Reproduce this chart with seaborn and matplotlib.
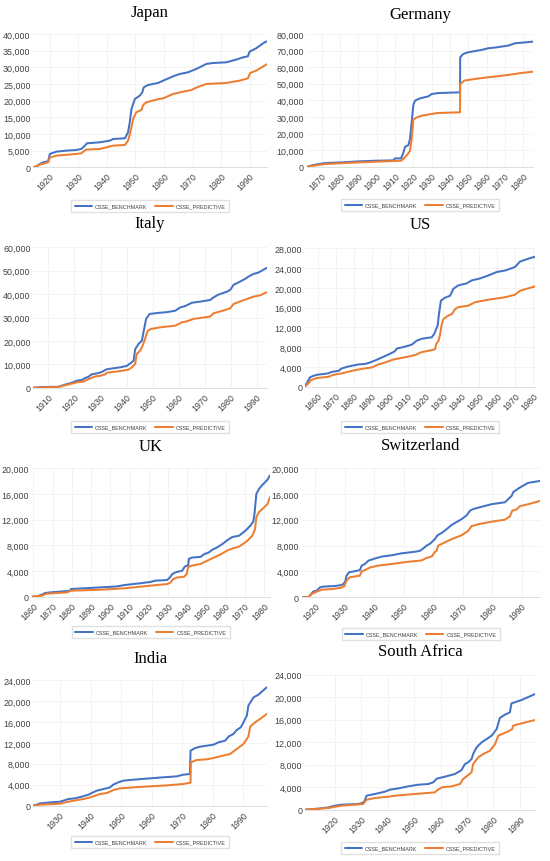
import matplotlib
matplotlib.use("Agg")
import matplotlib.pyplot as plt
import seaborn as sns
import pandas as pd
from matplotlib.ticker import FuncFormatter, FixedLocator

# ---------------- data ----------------
SERIES = ["CSSE_BENCHMARK", "CSSE_PREDICTIVE"]
COLORS = ["#4472C4", "#ED7D31"]

COUNTRIES = ["Japan", "Germany", "Italy", "US", "UK", "Switzerland", "India", "South Africa"]

JAPAN_B_YEARS = [1914.2, 1915.3, 1916.5, 1917.7, 1919.4, 1920.0, 1922.3, 1925.8, 1929.3, 1931.0, 1932.3, 1933.0,
                 1937.5, 1941.0, 1942.2, 1946.3, 1947.4, 1948.0, 1948.6, 1949.8, 1951.5, 1952.4, 1952.9, 1954.4,
                 1957.9, 1959.7, 1963.2, 1965.5, 1968.4, 1971.3, 1974.8, 1977.2, 1981.8, 1985.3, 1987.7, 1989.4,
                 1990.0, 1992.3, 1994.7, 1996.0]
JAPAN_B_VALS = [0, 200, 1000, 1500, 1800, 4000, 4700, 5000, 5200, 5500, 6500, 7200,
                7500, 8000, 8500, 8700, 10500, 13500, 17500, 20500, 21500, 22500, 24000, 24700,
                25300, 26000, 27300, 28000, 28500, 29500, 31000, 31300, 31500, 32300, 33000, 33300,
                34700, 35700, 37200, 37800]
JAPAN_P_YEARS = [1914.2, 1916.5, 1919.4, 1920.0, 1922.3, 1929.3, 1931.0, 1932.6, 1937.5, 1942.2, 1946.3, 1947.4,
                 1948.2, 1949.2, 1950.3, 1952.1, 1952.7, 1953.8, 1957.3, 1959.7, 1963.2, 1966.7, 1969.6, 1971.3,
                 1974.8, 1981.8, 1986.5, 1989.4, 1990.2, 1992.3, 1996.0]
JAPAN_P_VALS = [0, 800, 1500, 2900, 3500, 4000, 4200, 5300, 5500, 6500, 6700, 8000,
                10500, 14500, 16500, 17200, 18700, 19500, 20300, 20700, 22000, 22700, 23200, 23900,
                25000, 25300, 26000, 26700, 28300, 29000, 30900]

GERMANY_B_YEARS = [1861.8, 1866.4, 1871.8, 1880.9, 1890.0, 1899.0, 1909.0, 1910.0, 1913.3, 1914.5, 1915.5, 1917.3,
                   1918.2, 1919.1, 1920.0, 1920.9, 1923.6, 1928.2, 1930.0, 1933.6, 1944.5, 1945.5, 1945.6, 1947.3,
                   1950.0, 1957.3, 1960.9, 1964.5, 1971.8, 1975.5, 1985.5]
GERMANY_B_VALS = [0, 1200, 2200, 2600, 3200, 3600, 3800, 5000, 5000, 8200, 12000, 13000,
                  16700, 26700, 37200, 39800, 41200, 42400, 43800, 44400, 44800, 44800, 66000, 68000,
                  69000, 70400, 71400, 71800, 73000, 74400, 75400]
GERMANY_P_YEARS = [1861.8, 1871.8, 1890.0, 1913.3, 1914.5, 1917.0, 1918.2, 1919.1, 1920.0, 1921.8, 1924.5, 1930.0,
                   1933.6, 1945.5, 1945.6, 1947.8, 1953.6, 1960.9, 1971.8, 1979.1, 1985.5]
GERMANY_P_VALS = [0, 1600, 2600, 3600, 4600, 7600, 9600, 16700, 28300, 29700, 30700, 31800,
                  32400, 32800, 49800, 51900, 52900, 53900, 55300, 56500, 57300]

ITALY_B_YEARS = [1904.2, 1908.1, 1913.8, 1915.1, 1916.4, 1919.0, 1920.9, 1922.8, 1924.1, 1925.4, 1926.6, 1928.6,
                 1930.5, 1932.2, 1933.7, 1937.5, 1940.1, 1941.4, 1942.7, 1943.3, 1944.6, 1945.9, 1946.5, 1947.5,
                 1948.8, 1951.6, 1955.5, 1958.7, 1960.6, 1962.5, 1965.1, 1968.3, 1972.1, 1973.4, 1975.3, 1978.5,
                 1979.8, 1981.1, 1983.0, 1985.5, 1986.8, 1988.7, 1990.6, 1991.9, 1993.8]
ITALY_B_VALS = [0, 300, 400, 850, 1300, 2100, 3000, 3300, 4100, 4700, 5700, 6100,
                6700, 7800, 8100, 8700, 9300, 10400, 11500, 16500, 18700, 20100, 23700, 29400,
                31500, 31900, 32300, 32900, 34300, 34900, 36300, 36800, 37500, 38600, 39800, 41000,
                41800, 44000, 45000, 46500, 47500, 48600, 49200, 50000, 51200]
ITALY_P_YEARS = [1904.2, 1913.8, 1916.4, 1920.9, 1923.5, 1925.4, 1928.0, 1929.9, 1931.8, 1932.4, 1937.5, 1940.7,
                 1942.0, 1943.3, 1943.9, 1945.2, 1946.2, 1947.1, 1948.0, 1949.3, 1952.9, 1958.7, 1961.2, 1963.2,
                 1965.7, 1972.1, 1973.4, 1976.0, 1979.8, 1981.1, 1983.7, 1986.2, 1988.7, 1991.3, 1993.8]
ITALY_P_VALS = [0, 300, 1000, 2300, 2600, 3700, 4800, 5100, 5700, 6400, 7100, 7700,
                8700, 10100, 14400, 15800, 18000, 20800, 24100, 25100, 25800, 26500, 27900, 28400,
                29400, 30400, 31800, 32600, 33900, 35800, 36900, 37900, 38900, 39500, 40800]

US_B_YEARS = [1852.9, 1854.2, 1855.7, 1857.6, 1859.4, 1865.9, 1867.8, 1871.5, 1873.4, 1877.1, 1882.6, 1886.3,
              1889.1, 1891.9, 1895.6, 1899.3, 1902.1, 1903.0, 1904.0, 1908.6, 1912.3, 1915.1, 1917.9, 1923.5,
              1924.9, 1926.8, 1927.5, 1928.6, 1930.9, 1933.7, 1935.5, 1938.3, 1942.9, 1945.7, 1950.4, 1955.0,
              1959.6, 1964.3, 1969.8, 1972.6, 1977.3, 1981.0]
US_B_VALS = [0, 900, 1900, 2200, 2400, 2700, 3000, 3200, 3700, 4100, 4500, 4600,
             4900, 5300, 5900, 6500, 7000, 7200, 7700, 8100, 8500, 9300, 9700, 10000,
             10700, 12400, 14700, 17400, 18000, 18400, 19800, 20500, 20900, 21500, 21900, 22500,
             23200, 23500, 24200, 25300, 25900, 26300]
US_P_YEARS = [1852.9, 1854.4, 1856.3, 1859.4, 1865.9, 1868.7, 1873.4, 1878.9, 1884.5, 1890.1, 1893.8, 1897.5,
              1902.1, 1910.5, 1914.2, 1917.9, 1923.5, 1925.4, 1925.9, 1927.3, 1928.2, 1929.1, 1930.0, 1932.8,
              1934.7, 1936.5, 1938.3, 1943.9, 1947.6, 1955.0, 1964.3, 1969.8, 1972.6, 1976.3, 1981.0]
US_P_VALS = [0, 540, 1350, 1750, 2000, 2400, 2700, 3200, 3600, 3900, 4500, 4900,
             5500, 6100, 6400, 7000, 7400, 7600, 8600, 9300, 10700, 12700, 13700, 14400,
             14700, 15700, 16100, 16400, 17100, 17600, 18100, 18600, 19400, 19800, 20300]

UK_B_YEARS = [1859.1, 1861.7, 1864.3, 1866.1, 1868.7, 1877.4, 1879.1, 1879.5, 1886.1, 1894.8, 1903.5, 1907.0,
              1915.7, 1920.9, 1923.5, 1929.6, 1931.0, 1932.2, 1933.9, 1937.4, 1938.8, 1940.5, 1940.9, 1942.6,
              1947.0, 1948.7, 1951.3, 1953.0, 1955.7, 1958.3, 1960.9, 1963.5, 1967.0, 1970.4, 1973.0, 1974.4,
              1975.1, 1976.0, 1977.4, 1979.1, 1981.7, 1983.1]
UK_B_VALS = [0, 50, 300, 570, 670, 880, 930, 1200, 1300, 1450, 1600, 1800,
             2100, 2300, 2500, 2600, 3000, 3500, 3800, 4050, 4700, 4900, 5900, 6100,
             6200, 6600, 6900, 7300, 7700, 8200, 8800, 9300, 9500, 10300, 11100, 11700,
             13100, 16000, 16800, 17400, 18200, 18900]
UK_P_YEARS = [1859.1, 1864.3, 1866.9, 1877.4, 1879.5, 1894.8, 1907.0, 1915.7, 1923.5, 1929.6, 1931.3, 1932.7,
              1934.8, 1938.3, 1939.7, 1940.5, 1941.7, 1947.0, 1950.4, 1953.9, 1957.4, 1960.9, 1963.5, 1967.0,
              1971.3, 1973.9, 1975.3, 1976.0, 1977.4, 1980.0, 1981.7, 1983.1]
UK_P_VALS = [0, 150, 470, 670, 930, 1090, 1300, 1560, 1800, 1970, 2200, 2750,
             3000, 3100, 3500, 4600, 4800, 5100, 5600, 6100, 6600, 7200, 7500, 7800,
             8700, 9500, 10500, 12400, 13200, 13900, 14400, 15500]

SWISS_B_YEARS = [1915.5, 1917.7, 1918.3, 1919.4, 1920.6, 1921.7, 1922.8, 1926.8, 1929.0, 1929.6, 1930.2, 1930.7,
                 1931.5, 1933.0, 1935.2, 1935.8, 1936.9, 1938.1, 1940.3, 1942.6, 1946.0, 1949.3, 1953.9, 1955.6,
                 1956.7, 1957.8, 1959.0, 1960.6, 1961.5, 1962.9, 1964.6, 1966.3, 1969.7, 1971.4, 1972.5, 1973.6,
                 1976.4, 1979.8, 1984.3, 1985.5, 1986.6, 1987.2, 1988.8, 1990.0, 1992.2, 1996.2]
SWISS_B_VALS = [0, 0, 260, 880, 1030, 1550, 1650, 1750, 1900, 2060, 2400, 3350,
                3860, 4000, 4200, 4900, 5150, 5670, 6000, 6300, 6500, 6800, 7050, 7200,
                7570, 8000, 8300, 9000, 9600, 9950, 10550, 11200, 12100, 12700, 13400, 13650,
                14000, 14400, 14700, 15200, 15700, 16300, 16800, 17150, 17700, 18000]
SWISS_P_YEARS = [1915.5, 1917.7, 1918.8, 1920.6, 1922.3, 1926.2, 1929.0, 1929.9, 1930.7, 1931.8, 1935.2, 1935.8,
                 1936.9, 1938.6, 1941.4, 1946.0, 1951.6, 1956.1, 1957.8, 1959.5, 1960.6, 1961.2, 1961.7, 1964.0,
                 1966.3, 1969.7, 1971.9, 1973.0, 1975.3, 1979.8, 1984.3, 1986.0, 1986.8, 1988.3, 1989.4, 1992.2,
                 1996.2]
SWISS_P_VALS = [0, 0, 500, 880, 1180, 1290, 1500, 1700, 2600, 3100, 3350, 4000,
                4200, 4600, 4900, 5150, 5500, 5700, 6100, 6300, 7000, 7200, 8000, 8500,
                9000, 9600, 10300, 11000, 11300, 11700, 12000, 12500, 13400, 13600, 14100, 14400,
                14900]

INDIA_B_YEARS = [1921.3, 1922.4, 1923.5, 1925.6, 1930.0, 1931.1, 1932.7, 1934.9, 1937.1, 1939.3, 1940.4, 1942.0,
                 1944.2, 1946.4, 1947.4, 1949.1, 1950.7, 1954.0, 1959.4, 1964.9, 1968.2, 1970.3, 1972.5, 1972.7,
                 1974.2, 1975.8, 1980.2, 1981.8, 1984.0, 1985.1, 1986.7, 1987.8, 1989.1, 1990.0, 1991.1, 1991.6,
                 1993.3, 1994.9, 1997.6]
INDIA_B_VALS = [0, 190, 450, 570, 760, 950, 1270, 1400, 1720, 2100, 2420, 2860,
                3180, 3500, 4010, 4460, 4770, 4970, 5220, 5470, 5600, 5920, 6050, 10500,
                11000, 11270, 11650, 12100, 12410, 13180, 13690, 14450, 14960, 15900, 17190, 19100,
                20690, 21200, 22600]
INDIA_P_YEARS = [1921.3, 1923.5, 1930.0, 1932.2, 1934.4, 1937.7, 1939.9, 1941.5, 1943.1, 1945.3, 1947.5, 1949.6,
                 1954.0, 1964.9, 1970.3, 1972.7, 1972.8, 1974.7, 1977.9, 1980.2, 1982.3, 1985.6, 1987.8, 1990.0,
                 1991.6, 1992.2, 1993.8, 1995.4, 1997.6]
INDIA_P_VALS = [0, 190, 380, 700, 950, 1270, 1590, 1910, 2230, 2420, 2990, 3310,
                3500, 3880, 4140, 4390, 8280, 8720, 8850, 9100, 9420, 9870, 10820, 11780,
                13180, 15090, 15920, 16550, 17500]

SA_B_YEARS = [1908.7, 1913.7, 1917.5, 1920.0, 1922.5, 1928.8, 1930.7, 1931.3, 1932.0, 1935.1, 1938.9, 1940.8,
              1944.0, 1947.7, 1951.5, 1955.3, 1957.2, 1958.5, 1961.6, 1965.4, 1967.9, 1969.2, 1970.4, 1971.7,
              1972.3, 1973.6, 1975.5, 1977.4, 1979.3, 1981.2, 1982.4, 1984.3, 1986.2, 1986.8, 1990.6, 1995.7]
SA_B_VALS = [0, 180, 410, 710, 890, 1010, 1240, 1600, 2490, 2790, 3200, 3560,
             3790, 4150, 4440, 4560, 4860, 5510, 5870, 6340, 7050, 8120, 8420, 9010,
             9900, 11080, 11970, 12560, 13160, 14340, 16300, 16890, 17300, 18900, 19500, 20560]
SA_P_YEARS = [1908.7, 1917.5, 1922.5, 1930.7, 1932.0, 1935.1, 1940.2, 1942.7, 1950.2, 1957.8, 1958.5, 1960.4,
              1964.2, 1967.3, 1968.5, 1970.4, 1971.7, 1972.3, 1974.2, 1976.1, 1978.7, 1980.6, 1981.8, 1985.6,
              1987.1, 1987.4, 1990.6, 1995.7]
SA_P_VALS = [0, 300, 710, 1010, 1780, 2070, 2310, 2490, 2790, 3080, 3380, 3970,
             4150, 4560, 5450, 6160, 6640, 8120, 9300, 9900, 10490, 11670, 13160, 13930,
             14340, 14930, 15350, 15940]

JAPAN_XTICKS = [1920, 1930, 1940, 1950, 1960, 1970, 1980, 1990]
GERMANY_XTICKS = [1870, 1880, 1890, 1900, 1910, 1920, 1930, 1940, 1950, 1960, 1970, 1980]
ITALY_XTICKS = [1910, 1920, 1930, 1940, 1950, 1960, 1970, 1980, 1990]
US_XTICKS = [1860, 1870, 1880, 1890, 1900, 1910, 1920, 1930, 1940, 1950, 1960, 1970, 1980]
UK_XTICKS = [1860, 1870, 1880, 1890, 1900, 1910, 1920, 1930, 1940, 1950, 1960, 1970, 1980]
SWISS_XTICKS = [1920, 1930, 1940, 1950, 1960, 1970, 1980, 1990]
INDIA_XTICKS = [1930, 1940, 1950, 1960, 1970, 1980, 1990]
SA_XTICKS = [1920, 1930, 1940, 1950, 1960, 1970, 1980, 1990]

JAPAN_YTICKS = [0, 5000, 10000, 15000, 20000, 25000, 30000, 35000, 40000]
GERMANY_YTICKS = [0, 10000, 20000, 30000, 40000, 50000, 60000, 70000, 80000]
ITALY_YTICKS = [0, 10000, 20000, 30000, 40000, 50000, 60000]
US_YTICKS = [0, 4000, 8000, 12000, 16000, 20000, 24000, 28000]
UK_YTICKS = [0, 4000, 8000, 12000, 16000, 20000]
SWISS_YTICKS = [0, 4000, 8000, 12000, 16000, 20000]
INDIA_YTICKS = [0, 4000, 8000, 12000, 16000, 20000, 24000]
SA_YTICKS = [0, 4000, 8000, 12000, 16000, 20000, 24000]

DATA = {
    "Japan": (JAPAN_B_YEARS, JAPAN_B_VALS, JAPAN_P_YEARS, JAPAN_P_VALS, JAPAN_XTICKS, JAPAN_YTICKS),
    "Germany": (GERMANY_B_YEARS, GERMANY_B_VALS, GERMANY_P_YEARS, GERMANY_P_VALS, GERMANY_XTICKS, GERMANY_YTICKS),
    "Italy": (ITALY_B_YEARS, ITALY_B_VALS, ITALY_P_YEARS, ITALY_P_VALS, ITALY_XTICKS, ITALY_YTICKS),
    "US": (US_B_YEARS, US_B_VALS, US_P_YEARS, US_P_VALS, US_XTICKS, US_YTICKS),
    "UK": (UK_B_YEARS, UK_B_VALS, UK_P_YEARS, UK_P_VALS, UK_XTICKS, UK_YTICKS),
    "Switzerland": (SWISS_B_YEARS, SWISS_B_VALS, SWISS_P_YEARS, SWISS_P_VALS, SWISS_XTICKS, SWISS_YTICKS),
    "India": (INDIA_B_YEARS, INDIA_B_VALS, INDIA_P_YEARS, INDIA_P_VALS, INDIA_XTICKS, INDIA_YTICKS),
    "South Africa": (SA_B_YEARS, SA_B_VALS, SA_P_YEARS, SA_P_VALS, SA_XTICKS, SA_YTICKS),
}

# ---------------- layout (pixels) ----------------
W, H = 550, 862
# x0, x1, y_top, y_bottom, title_y, legend_y
LAYOUT = {
    "Japan": (33.3, 266.7, 35.0, 168.3, 13, 207),
    "Germany": (306.7, 533.3, 35.0, 167.7, 15, 206),
    "Italy": (33.3, 266.7, 248.3, 388.7, 224, 428),
    "US": (305.0, 535.0, 249.3, 387.7, 225, 428),
    "UK": (31.7, 270.0, 469.3, 597.7, 447, 633),
    "Switzerland": (301.7, 540.0, 469.0, 598.3, 446, 635),
    "India": (33.3, 266.7, 681.0, 806.7, 659, 843),
    "South Africa": (305.0, 535.0, 675.7, 810.7, 652, 849),
}

sns.set_theme(style="white")
plt.rcParams["font.family"] = ["Liberation Sans", "DejaVu Sans"]

fig = plt.figure(figsize=(W / 100, H / 100), dpi=100)
fig.patch.set_facecolor("white")

for name in COUNTRIES:
    by, bv, py, pv, xt, yt = DATA[name]
    x0, x1, yt_px, yb_px, ty, ly = LAYOUT[name]
    ax = fig.add_axes([x0 / W, 1 - yb_px / H, (x1 - x0) / W, (yb_px - yt_px) / H])
    df = pd.concat([
        pd.DataFrame({"year": by, "value": bv, "series": SERIES[0]}),
        pd.DataFrame({"year": py, "value": pv, "series": SERIES[1]}),
    ], ignore_index=True)
    sns.lineplot(data=df, x="year", y="value", hue="series", hue_order=SERIES,
                 palette=COLORS, estimator=None, sort=False, linewidth=1.45, ax=ax)
    ax.set_xlim(min(by[0], py[0]), max(by[-1], py[-1]))
    ax.set_ylim(yt[0], yt[-1])
    ax.xaxis.set_major_locator(FixedLocator(xt))
    ax.yaxis.set_major_locator(FixedLocator(yt))
    ax.yaxis.set_major_formatter(FuncFormatter(lambda v, p: f"{int(v):,}"))
    ax.set_xlabel("")
    ax.set_ylabel("")
    ax.grid(True, color="#EEEEEE", linewidth=0.5)
    ax.set_axisbelow(True)
    for s in ["top", "right", "left"]:
        ax.spines[s].set_visible(False)
    ax.spines["bottom"].set_color("#D9D9D9")
    ax.spines["bottom"].set_linewidth(0.6)
    ax.tick_params(axis="y", length=0, pad=2, labelsize=6.4, labelcolor="#404040")
    ax.tick_params(axis="x", length=0, pad=3, labelsize=6.4, labelcolor="#404040")
    for lab in ax.get_xticklabels():
        lab.set_rotation(45)
        lab.set_ha("right")
        lab.set_va("top")
        lab.set_rotation_mode("anchor")
    handles, labels = ax.get_legend_handles_labels()
    ax.legend(handles, labels, loc="center", ncol=2,
              bbox_to_anchor=(((x0 + x1) / 2) / W, 1 - ly / H), bbox_transform=fig.transFigure,
              frameon=True, fancybox=False, edgecolor="#D9D9D9", fontsize=3.9,
              handlelength=3.2, handletextpad=0.55, columnspacing=1.5,
              borderpad=0.6, labelcolor="#404040")
    fig.text(((x0 + x1) / 2) / W, 1 - ty / H, name, ha="center", va="center",
             fontsize=12, family=["Liberation Serif", "DejaVu Serif"], color="black")

fig.savefig("out.png", dpi=100, facecolor="white")
